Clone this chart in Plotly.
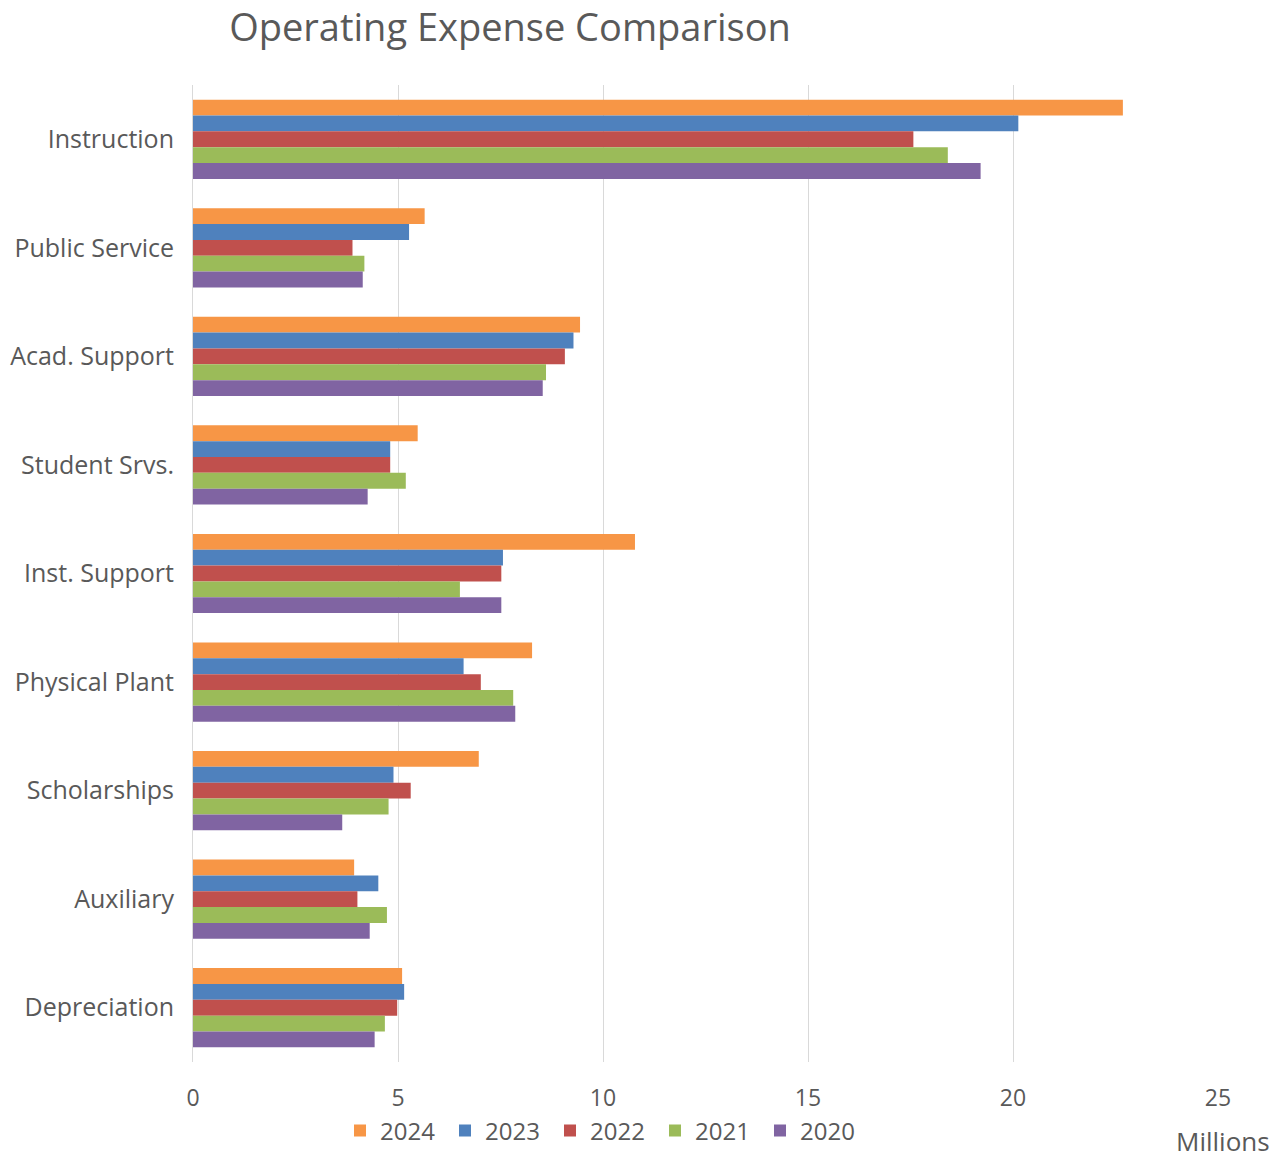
import plotly.graph_objects as go

categories = ["Instruction", "Public Service", "Acad. Support", "Student Srvs.",
              "Inst. Support", "Physical Plant", "Scholarships", "Auxiliary", "Depreciation"]

years = ["2024", "2023", "2022", "2021", "2020"]

v2024 = [22.68, 5.65, 9.44, 5.48, 10.78, 8.27, 6.97, 3.93, 5.10]
v2023 = [20.13, 5.27, 9.28, 4.81, 7.56, 6.60, 4.89, 4.52, 5.15]
v2022 = [17.57, 3.89, 9.07, 4.81, 7.52, 7.02, 5.31, 4.01, 4.98]
v2021 = [18.41, 4.18, 8.61, 5.19, 6.51, 7.81, 4.77, 4.73, 4.68]
v2020 = [19.21, 4.14, 8.53, 4.26, 7.52, 7.86, 3.64, 4.31, 4.43]

series = [v2024, v2023, v2022, v2021, v2020]
colors = ["#F79646", "#4F81BD", "#C0504D", "#9BBB59", "#8064A2"]

x_ticks = [0, 5, 10, 15, 20, 25]

fig = go.Figure()
for name, vals, col in zip(years, series, colors):
    fig.add_trace(go.Bar(y=categories, x=vals, name=name, orientation="h",
                         marker=dict(color=col, line=dict(width=0))))

font_family = "Open Sans, Noto Sans, sans-serif"
gray = "#595959"

top, bottom = 85, 99
plot_bottom = 1161 - bottom
plot_h = 1161 - top - bottom

fig.update_layout(
    width=1288, height=1161,
    margin=dict(l=193, r=70, t=top, b=bottom, autoexpand=False),
    paper_bgcolor="white", plot_bgcolor="white",
    barmode="group", bargap=0.27, bargroupgap=0,
    title=dict(text="Operating Expense Comparison", x=510 / 1288, xanchor="center",
               xref="container", y=1 - 28 / 1161, yanchor="middle", yref="container",
               font=dict(family=font_family, size=38, color=gray)),
    font=dict(family=font_family, color=gray, size=20),
    showlegend=True,
    legend=dict(orientation="h", x=(340 - 193) / 1025, xanchor="left",
                y=-(1131 - plot_bottom) / plot_h, yanchor="middle", yref="paper",
                font=dict(size=24, color=gray), traceorder="normal",
                itemwidth=30, entrywidth=60, bgcolor="rgba(0,0,0,0)"),
    xaxis=dict(range=[0, 25], tickvals=x_ticks, showgrid=True, gridcolor="#D9D9D9",
               gridwidth=1, zeroline=False, showline=False, ticks="",
               ticklabelstandoff=20, tickfont=dict(size=23, color=gray),
               fixedrange=True),
    yaxis=dict(autorange="reversed", showgrid=False, zeroline=False,
               showline=True, linecolor="#D9D9D9", linewidth=1, ticks="",
               ticklabelstandoff=13, tickfont=dict(size=25, color=gray)),
    annotations=[dict(text="Millions", x=(1272 - 193) / 1025, xref="paper", xanchor="right",
                      y=-(1161 - plot_bottom) / plot_h, yref="paper", yanchor="bottom",
                      showarrow=False, font=dict(size=26, color=gray))],
)

fig.write_html("out.html")
